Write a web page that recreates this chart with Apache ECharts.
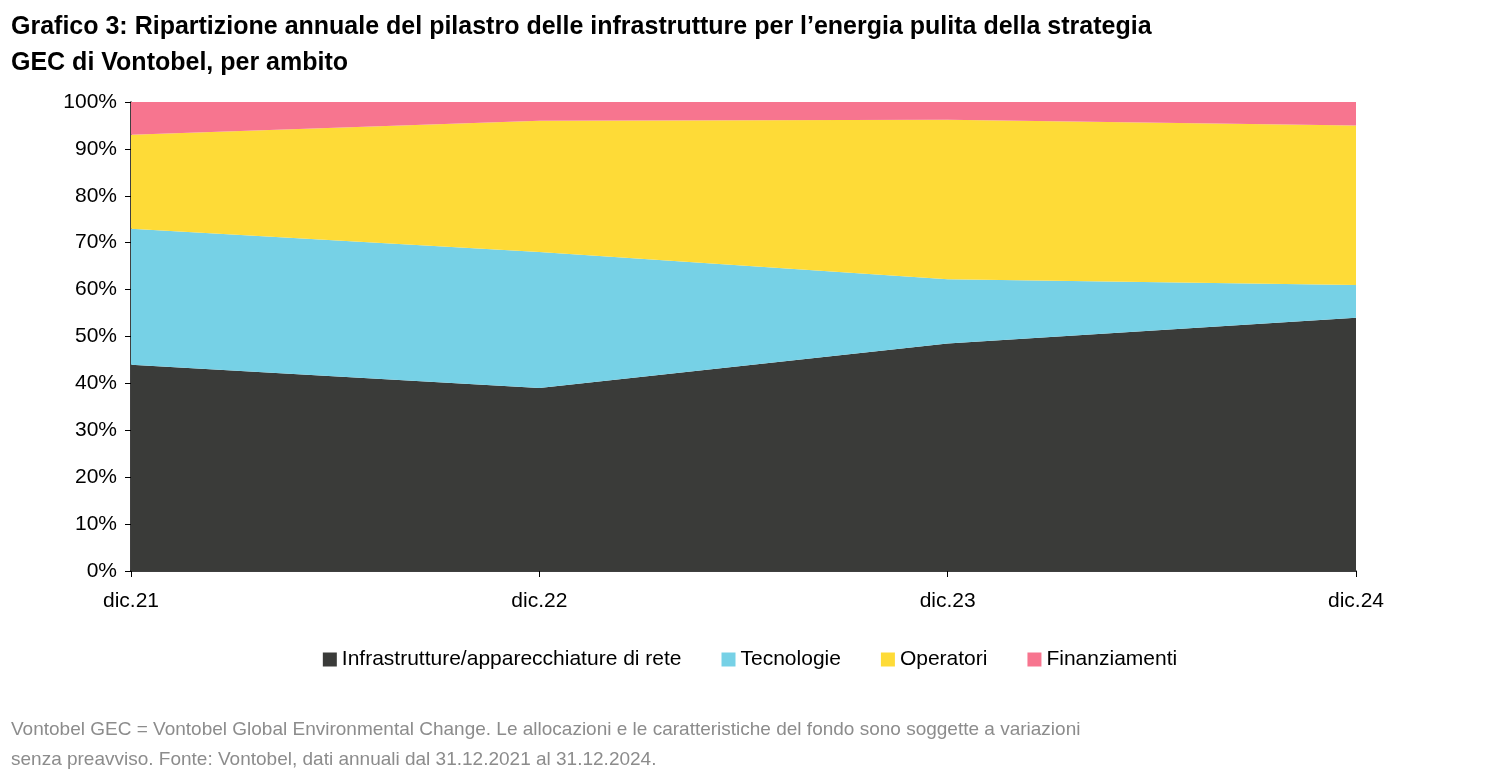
<!DOCTYPE html>
<html>
<head>
<meta charset="utf-8">
<script src="https://cdn.jsdelivr.net/npm/echarts@6/dist/echarts.min.js"></script>
<style>
  html, body { margin: 0; padding: 0; background: #fff; }
  #main { width: 1500px; height: 775px; }
</style>
</head>
<body>
<div id="main"></div>
<script>
var categories = ['dic.21', 'dic.22', 'dic.23', 'dic.24'];
var infrastrutture = [44, 39, 48.5, 54];
var tecnologie = [29, 29, 13.7, 7];
var operatori = [20, 28, 34, 34];
var finanziamenti = [7, 4, 3.8, 5];

var chart = echarts.init(document.getElementById('main'));
var font = 'Liberation Sans, Arial, sans-serif';

function areaSeries(name, data, color) {
  return {
    name: name,
    type: 'line',
    stack: 'Total',
    data: data,
    symbol: 'none',
    lineStyle: { width: 0 },
    areaStyle: { color: color, opacity: 1 },
    itemStyle: { color: color }
  };
}

var option = {
  backgroundColor: '#fff',
  animation: false,
  textStyle: { fontFamily: font },
  title: [
    {
      text: 'Grafico 3: Ripartizione annuale del pilastro delle infrastrutture per l\u2019energia pulita della strategia\nGEC di Vontobel, per ambito',
      left: 6, top: 4,
      textStyle: { fontSize: 25, fontWeight: 'bold', color: '#000', lineHeight: 36, fontFamily: font }
    },
    {
      text: 'Vontobel GEC = Vontobel Global Environmental Change. Le allocazioni e le caratteristiche del fondo sono soggette a variazioni\nsenza preavviso. Fonte: Vontobel, dati annuali dal 31.12.2021 al 31.12.2024.',
      left: 6, top: 710,
      textStyle: { fontSize: 19, fontWeight: 'normal', color: '#8c8c8c', lineHeight: 30, fontFamily: font }
    }
  ],
  legend: {
    top: 644, left: 'center',
    itemWidth: 14, itemHeight: 14, itemGap: 40,
    icon: 'rect',
    textStyle: { fontSize: 21, color: '#000', fontFamily: font },
    data: ['Infrastrutture/apparecchiature di rete', 'Tecnologie', 'Operatori', 'Finanziamenti']
  },
  grid: { left: 131, right: 144, top: 102, bottom: 204 },
  xAxis: {
    type: 'category',
    boundaryGap: false,
    data: categories,
    axisLine: { lineStyle: { color: '#000', width: 1.5 } },
    axisTick: { show: true, length: 6, lineStyle: { color: '#000' } },
    axisLabel: { fontSize: 21, color: '#000', margin: 20, fontFamily: font }
  },
  yAxis: {
    type: 'value',
    min: 0, max: 100, interval: 10,
    axisLine: { show: true, lineStyle: { color: '#000', width: 1.5 } },
    axisTick: { show: true, length: 6, lineStyle: { color: '#000' } },
    splitLine: { show: false },
    axisLabel: { fontSize: 21, color: '#000', formatter: '{value}%', margin: 14, fontFamily: font }
  },
  series: [
    areaSeries('Infrastrutture/apparecchiature di rete', infrastrutture, '#3a3b39'),
    areaSeries('Tecnologie', tecnologie, '#76d1e6'),
    areaSeries('Operatori', operatori, '#fedb37'),
    areaSeries('Finanziamenti', finanziamenti, '#f7758f')
  ]
};
chart.setOption(option);
</script>
</body>
</html>
